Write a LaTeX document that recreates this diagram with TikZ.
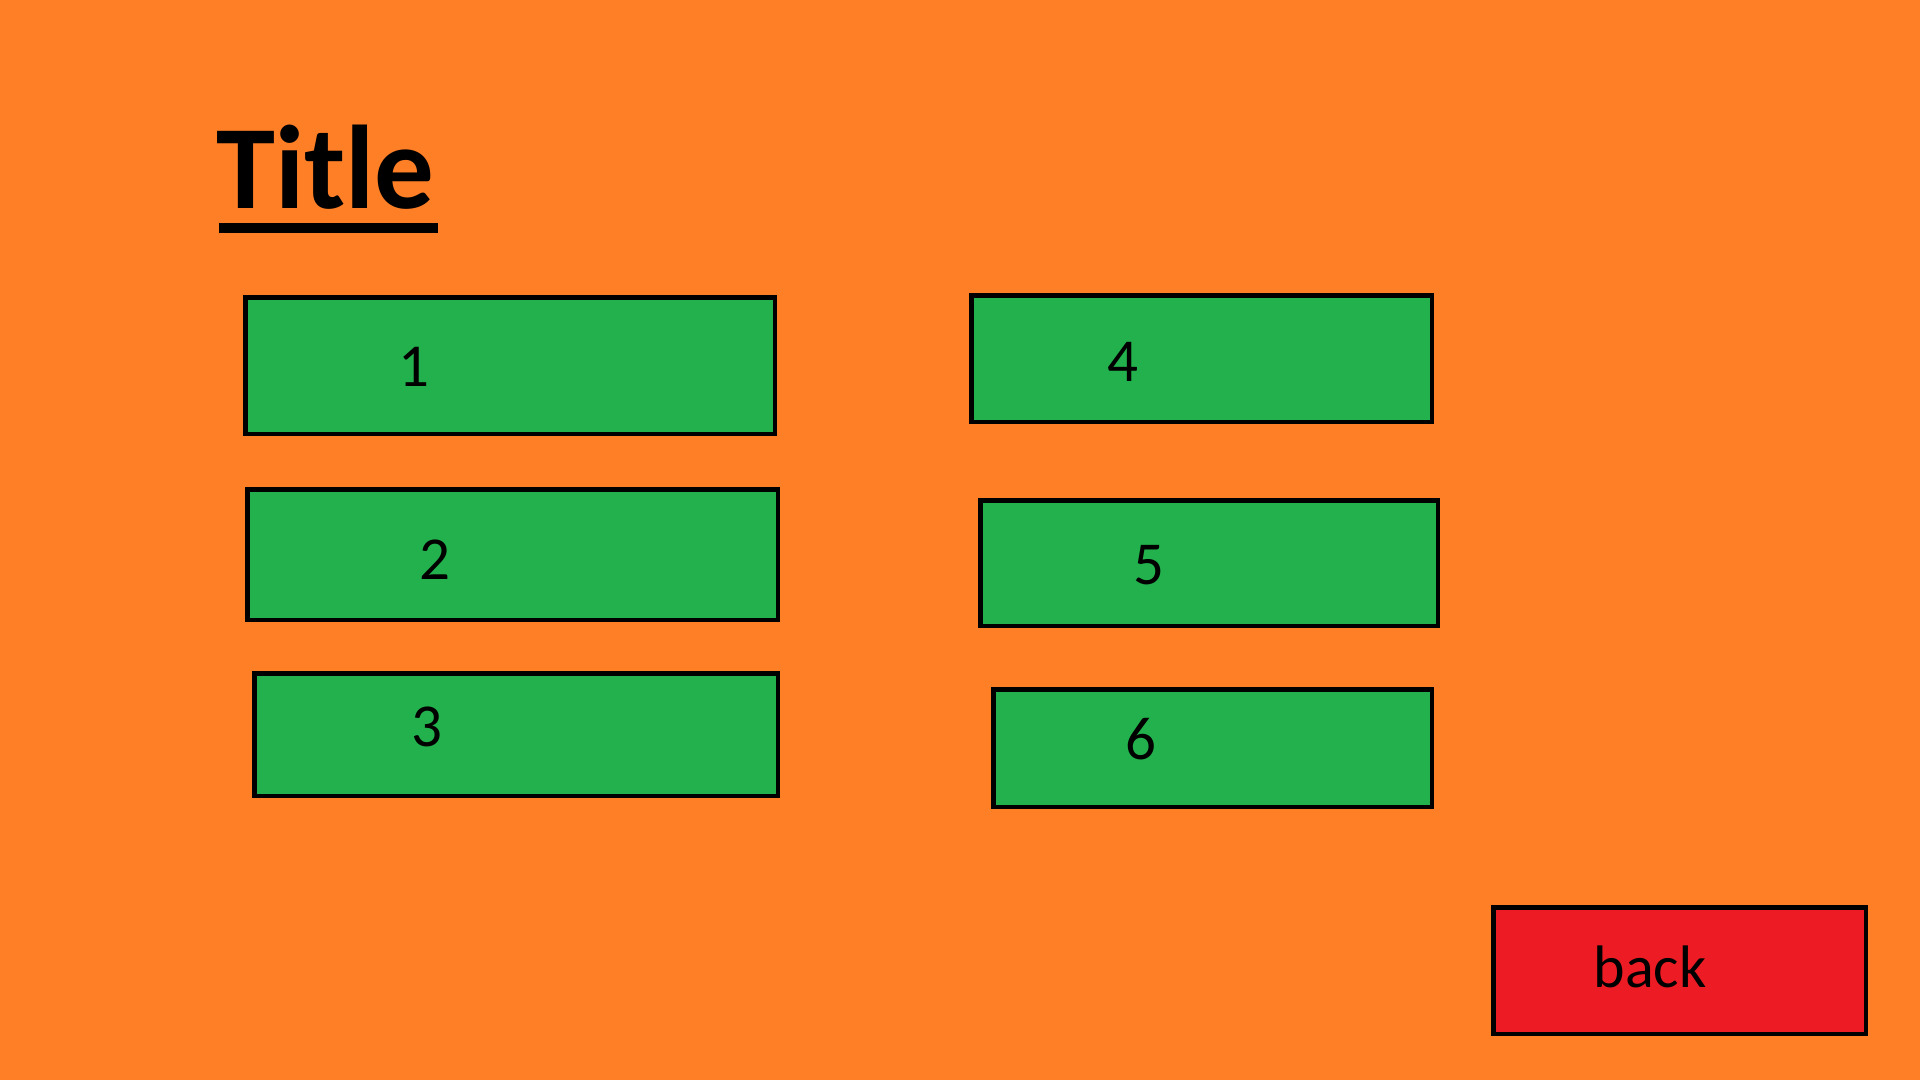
\documentclass[tikz,border=0pt]{standalone}
\usepackage{fontspec}
\setmainfont{Carlito}
\definecolor{bgorange}{HTML}{FF7F27}
\definecolor{btngreen}{HTML}{22B14C}
\definecolor{btnred}{HTML}{ED1C24}
\begin{document}
\begin{tikzpicture}[x=1pt,y=-1pt,
  btn/.style={draw=black,line width=4.5pt,fill=btngreen,inner sep=0pt,rectangle},
  lbl/.style={anchor=base,inner sep=0pt,font=\fontsize{61}{70}\selectfont}]
\fill[bgorange] (0,0) rectangle (1920,1080);
\useasboundingbox (0,0) rectangle (1920,1080);
% boxes: outer x1,x2,y1,y2
\newcommand\mybox[6]{%
  \node[btn,#6,minimum width={#3-#2-4.5pt},minimum height={#5-#4-4.5pt}] (#1) at ({(#2+#3)/2},{(#4+#5)/2}) {};}
\mybox{b1}{243}{777}{295}{436}{}
\mybox{b2}{245}{780}{487}{622}{}
\mybox{b3}{252}{780}{671}{798}{}
\mybox{b4}{969}{1434}{293}{424}{}
\mybox{b5}{978}{1440}{498}{628}{}
\mybox{b6}{991}{1434}{687}{809}{}
\mybox{bb}{1491}{1868}{905}{1036}{fill=btnred}
\node[lbl] (t1) at (414,386) {1};
\node[lbl] (t2) at (435,579) {2};
\node[lbl] (t3) at (427,746) {3};
\node[lbl] (t4) at (1123,381) {4};
\node[lbl] (t5) at (1149,584) {5};
\node[lbl] (t6) at (1141,759) {6};
\node[lbl,font=\fontsize{60}{70}\selectfont] (tb) at (1650,987) {back};
\node[anchor=base west,inner sep=0pt,font=\fontsize{119}{130}\selectfont\bfseries] (title) at (216,208) {Title};
\draw[line width=10pt] (219,228) -- (438,228);
\end{tikzpicture}
\end{document}
